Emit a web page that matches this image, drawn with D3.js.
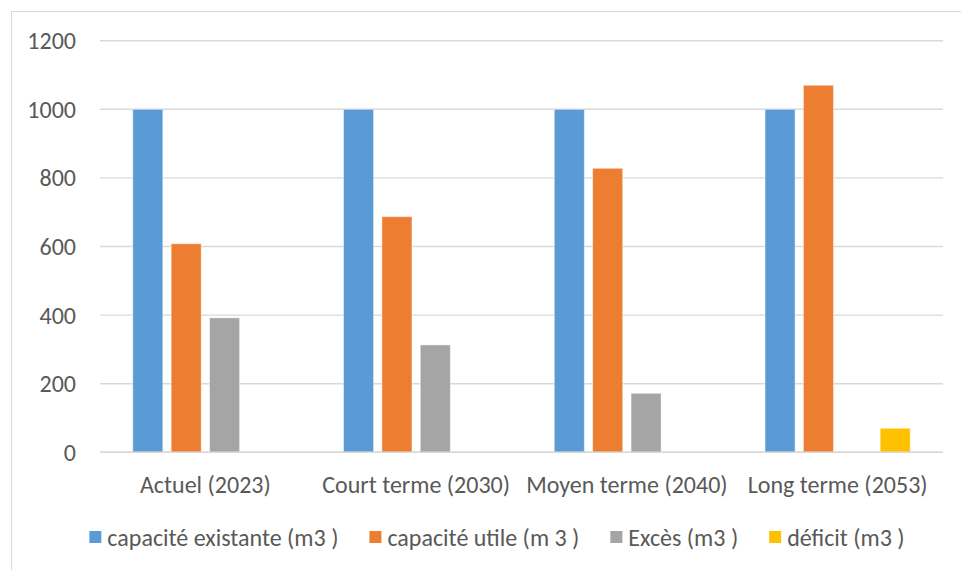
<!DOCTYPE html>
<html>
<head>
<meta charset="utf-8">
<script src="https://cdn.jsdelivr.net/npm/d3@7"></script>
<style>
  html, body { margin: 0; padding: 0; background: #fff; }
  svg { display: block; }
  text { font-family: Carlito, "Liberation Sans", Arial, sans-serif; fill: #595959; }
</style>
</head>
<body>
<svg id="chart" width="961" height="570"></svg>
<script>
// Water storage capacity by planning horizon (m3)
const categories = ["Actuel (2023)", "Court terme (2030)", "Moyen terme (2040)", "Long terme (2053)"];
const seriesNames = ["capacité existante (m3 )", "capacité utile (m 3 )", "Excès (m3 )", "déficit (m3 )"];
const capaciteExistante = [1000, 1000, 1000, 1000];
const capaciteUtile = [608, 687, 828, 1070];
const exces = [392, 313, 172, 0];
const deficit = [0, 0, 0, 70];
const yTicks = [0, 200, 400, 600, 800, 1000, 1200];
const colors = ["#5B9BD5", "#ED7D31", "#A5A5A5", "#FFC000"];

const seriesValues = [capaciteExistante, capaciteUtile, exces, deficit];
const FONT = 24;

const svg = d3.select("#chart");

// outer chart frame
svg.append("rect")
  .attr("x", 11.5).attr("y", 11.5)
  .attr("width", 1200).attr("height", 1200)
  .attr("fill", "none").attr("stroke", "#D9D9D9").attr("stroke-width", 1);

const plot = { left: 100, right: 943, top: 40.7, bottom: 452.3 };

const x0 = d3.scaleBand().domain(categories).range([plot.left, plot.right]).padding(0);
const groupPad = x0.bandwidth() * 0.1555;
const x1 = d3.scaleBand().domain(d3.range(seriesNames.length))
  .range([groupPad, x0.bandwidth() - groupPad]).paddingInner(0.217).paddingOuter(0);
const y = d3.scaleLinear().domain([0, 1200]).range([plot.bottom, plot.top]);

// horizontal gridlines
svg.append("g").selectAll("line").data(yTicks).join("line")
  .attr("x1", plot.left).attr("x2", plot.right)
  .attr("y1", d => y(d)).attr("y2", d => y(d))
  .attr("stroke", "#D9D9D9").attr("stroke-width", 1.4);

// y tick labels
svg.append("g").selectAll("text").data(yTicks).join("text")
  .attr("x", 76).attr("y", d => y(d)).attr("dy", "0.35em")
  .attr("text-anchor", "end").attr("font-size", FONT)
  .text(d => d);

// bars
const groups = svg.append("g").selectAll("g").data(categories).join("g")
  .attr("transform", c => `translate(${x0(c)},0)`);

groups.selectAll("rect")
  .data((c, ci) => seriesValues.map((vals, si) => ({ si, v: vals[ci] })).filter(d => d.v > 0))
  .join("rect")
  .attr("x", d => x1(d.si))
  .attr("width", x1.bandwidth())
  .attr("y", d => y(d.v))
  .attr("height", d => y(0) - y(d.v))
  .attr("fill", d => colors[d.si])
  .attr("stroke", "#fff").attr("stroke-opacity", 0.45).attr("stroke-width", 1);

// baseline redrawn over bars
svg.append("line")
  .attr("x1", plot.left).attr("x2", plot.right)
  .attr("y1", y(0)).attr("y2", y(0))
  .attr("stroke", "#D9D9D9").attr("stroke-width", 1.4);

// category labels
svg.append("g").selectAll("text").data(categories).join("text")
  .attr("x", c => x0(c) + x0.bandwidth() / 2)
  .attr("y", 485).attr("dy", "0.35em")
  .attr("text-anchor", "middle").attr("font-size", FONT)
  .text(c => c);

// legend, laid out left to right and centred
const legend = svg.append("g");
const items = legend.selectAll("g").data(seriesNames).join("g");
items.append("rect")
  .attr("width", 12).attr("height", 12).attr("y", 531)
  .attr("fill", (d, i) => colors[i]);
items.append("text")
  .attr("x", 18).attr("y", 537.5).attr("dy", "0.35em")
  .attr("font-size", FONT)
  .text(d => d);

let cursor = 0;
items.each(function () {
  const w = this.querySelector("text").getComputedTextLength();
  this.__x = cursor;
  cursor += 12 + 6 + w + 31;
});
const total = cursor - 31;
const start = 497 - total / 2;
items.attr("transform", function () { return `translate(${start + this.__x},0)`; });
</script>
</body>
</html>
